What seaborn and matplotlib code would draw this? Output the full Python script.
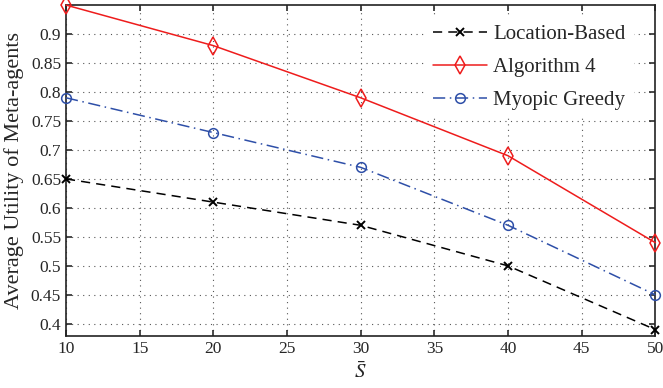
import pandas as pd
import matplotlib.pyplot as plt
import seaborn as sns

# data
s_bar = [10, 20, 30, 40, 50]
location_based = [0.65, 0.61, 0.57, 0.50, 0.39]
algorithm_4 = [0.95, 0.88, 0.79, 0.69, 0.54]
myopic_greedy = [0.79, 0.73, 0.67, 0.57, 0.45]

series = {
    "Location-Based": location_based,
    "Algorithm 4": algorithm_4,
    "Myopic Greedy": myopic_greedy,
}
df = pd.DataFrame(
    [(x, name, y) for name, vals in series.items() for x, y in zip(s_bar, vals)],
    columns=["S", "method", "utility"],
)

sns.set_theme(style="ticks")
plt.rcParams["font.family"] = ["Liberation Serif", "DejaVu Serif"]
plt.rcParams["mathtext.fontset"] = "stix"

fig = plt.figure(figsize=(6.63, 3.88), dpi=100)
ax = fig.add_axes([0.0995, 0.134, 0.889, 0.853])

styles = {
    "Location-Based": dict(color="black", linestyle=(0, (6, 4)), marker="x", ms=5.5, mew=1.4),
    "Algorithm 4": dict(color="#ee1c1c", linestyle="-", marker="d", ms=9, mew=1.1,
                        markerfacecolor="none"),
    "Myopic Greedy": dict(color="#2e4fa8", linestyle=(0, (8, 3, 1, 3)), marker="o", ms=7,
                          mew=1.1, markerfacecolor="none"),
}

for name in series:
    sub = df[df["method"] == name]
    st = styles[name]
    sns.lineplot(data=sub, x="S", y="utility", ax=ax, label=name, lw=1.1,
                 color=st["color"], linestyle=st["linestyle"], marker=st["marker"],
                 markersize=st["ms"], markeredgewidth=st["mew"],
                 markeredgecolor=st["color"],
                 markerfacecolor=st.get("markerfacecolor", st["color"]),
                 clip_on=False, zorder=3)

ax.set_xlim(10, 50)
ax.set_ylim(0.379, 0.95)
ax.set_xticks(range(10, 51, 5))
ax.set_yticks([0.4, 0.45, 0.5, 0.55, 0.6, 0.65, 0.7, 0.75, 0.8, 0.85, 0.9])
ax.set_yticklabels(["0.4", "0.45", "0.5", "0.55", "0.6", "0.65", "0.7", "0.75",
                    "0.8", "0.85", "0.9"])
ax.grid(True, linestyle=(0, (1, 4)), color="#555555", linewidth=0.8)
ax.tick_params(direction="in", top=True, right=True, labelsize=12.5, length=4,
               color="#333333")
for sp in ax.spines.values():
    sp.set_linewidth(1.2)
    sp.set_color("#222222")

ax.set_xlabel(r"$\bar{S}$", fontsize=15)
ax.set_ylabel("Average Utility of Meta-agents", fontsize=16, labelpad=5)

leg = ax.legend(loc="upper right", bbox_to_anchor=(0.964, 0.967),
                prop={"family": ["Liberation Serif"], "size": 15},
                frameon=True, fancybox=False, edgecolor="white", framealpha=1,
                handlelength=2.6, handletextpad=0.3, borderaxespad=0,
                labelspacing=0.65)
leg.get_frame().set_linewidth(0)

plt.savefig("out.png", dpi=100)
